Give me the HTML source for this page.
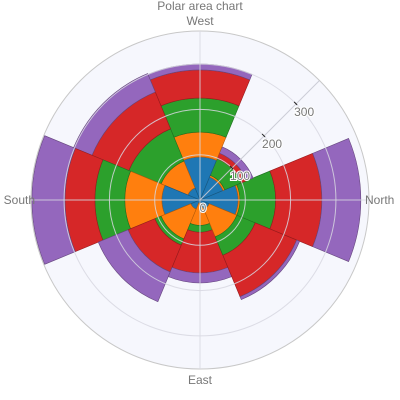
<!DOCTYPE html>
<html><head><meta charset="utf-8"><style>
body{margin:0;background:#fff;}
svg{display:block;font-family:"Liberation Sans",sans-serif;}
</style></head><body>
<svg id="chart" width="400" height="400">
<text x="200" y="10" text-anchor="middle" font-size="12" fill="#777">Polar area chart</text>
</svg>
<script>
const categories = ["North","N-W","West","S-W","South","S-E","East","N-E"];
const angles = [0,45,90,135,180,225,270,315];
const seriesNames = ["s1","s2","s3","s4","s5"];
const s1 = [84,55,95,29,84,22,7,22];
const s2 = [4,4,55,64,82,71,49,66];
const s3 = [79,40,75,77,66,15,15,44];
const s4 = [102,13,62,88,66,64,90,99];
const s5 = [86,15,13,44,73,71,22,7];
const radialTicks = [0,100,200,300];
const angularLabels = ["North","West","South","East"];
const angularLabelAngles = [0,90,180,270];

const colors = ["#1f77b4","#ff7f0e","#2ca02c","#d62728","#9467bd"];
const strokes = ["#17577f","#b35a09","#1f701f","#961b1c","#67487f"];
const CX=200, CY=200, R=169, RMAX=373, WIDTH=45;
const NS="http://www.w3.org/2000/svg";
const svg=document.getElementById('chart');
function rScale(v){return v/RMAX*R;}
function pt(r,deg){const a=deg*Math.PI/180;return [CX+r*Math.cos(a),CY-r*Math.sin(a)];}
function mk(tag,attrs,parent){const e=document.createElementNS(NS,tag);for(const k in attrs)e.setAttribute(k,attrs[k]);(parent||svg).appendChild(e);return e;}

const bg=mk('circle',{cx:CX,cy:CY,r:R,fill:'#f6f7fd',stroke:'#c8c8c8','stroke-width':1});



const series=[s1,s2,s3,s4,s5];
const barsG=mk('g',{});


for(let i=0;i<categories.length;i++){
  let base=0;
  for(let s=0;s<series.length;s++){
    const v=series[s][i];
    const r0=rScale(base), r1=rScale(base+v);
    const a0=angles[i]-WIDTH/2, a1=angles[i]+WIDTH/2;
    const p0=pt(r0,a0),p1=pt(r1,a0),p2=pt(r1,a1),p3=pt(r0,a1);
    const d=`M${p0[0]},${p0[1]} L${p1[0]},${p1[1]} A${r1},${r1} 0 0 0 ${p2[0]},${p2[1]} L${p3[0]},${p3[1]} A${r0},${r0} 0 0 1 ${p0[0]},${p0[1]} Z`;
    const p=mk('path',{d:d,fill:colors[s],stroke:strokes[s],'stroke-width':0.6},barsG);
    
    
    base+=v;
  }
}
const grid=mk('g',{stroke:'rgba(215,215,225,0.85)','stroke-width':1,fill:'none'});


radialTicks.forEach(t=>{if(t>0){const c=mk('circle',{cx:CX,cy:CY,r:rScale(t)},grid);

}});
angularLabelAngles.forEach(a=>{const p=pt(R,a);
const l=mk('line',{x1:p[0],y1:p[1],x2:CX,y2:CY},grid);

});
const ax=pt(R,45);
const axl=mk('line',{x1:CX,y1:CY,x2:ax[0],y2:ax[1],stroke:'rgba(200,200,210,0.9)','stroke-width':1});


radialTicks.forEach(t=>{
  const p=pt(rScale(t),45);
  if(t>0){const tk=mk('line',{x1:p[0]-2,y1:p[1]-2,x2:p[0]+1,y2:p[1]+1,stroke:'#222','stroke-width':1});
  
  }
  const tx=mk('text',{x:p[0]+(t===0?3:8),y:p[1]+12,'text-anchor':'middle','font-size':12,fill:'#777',stroke:'#fff','stroke-width':2,'paint-order':'stroke'});
  tx.textContent=t;
  
  
});
angularLabels.forEach((lab,i)=>{
  const a=angularLabelAngles[i];const p=pt(R,a);
  let anchor='middle',dx=0,dy=4;
  if(a===0){anchor='start';dx=-4;}
  if(a===180){anchor='end';dx=4;}
  if(a===90)dy=-6; if(a===270)dy=15;
  const tx=mk('text',{x:p[0]+dx,y:p[1]+dy,'text-anchor':anchor,'font-size':12,fill:'#777'});
  tx.textContent=lab;
  
  
});
</script>
</body></html>
